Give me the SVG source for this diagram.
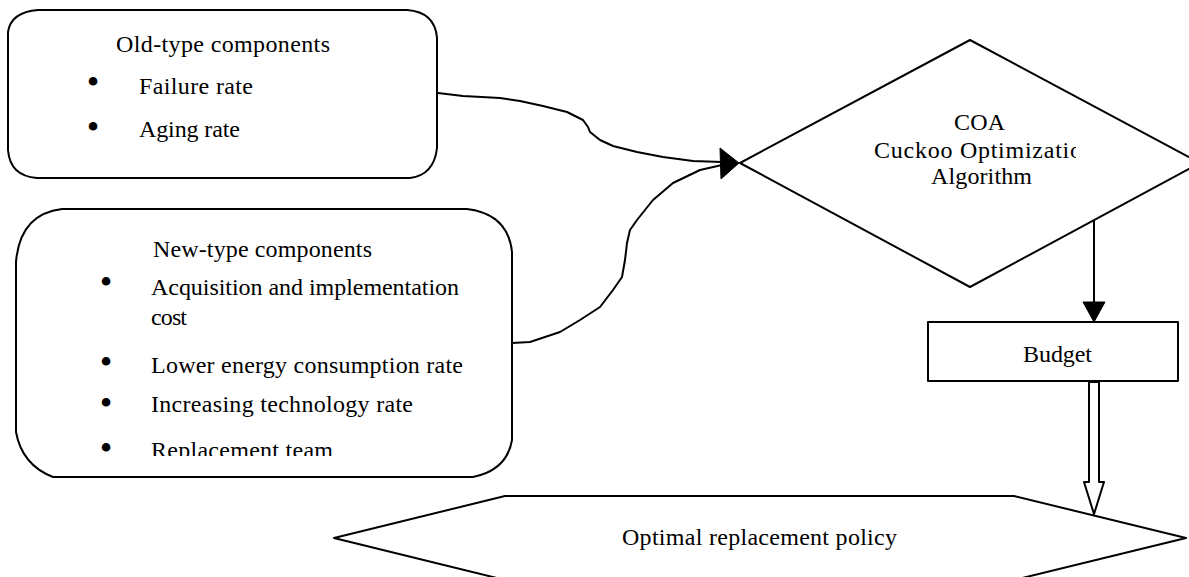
<svg xmlns="http://www.w3.org/2000/svg" width="1189" height="577" viewBox="0 0 1189 577">
<defs>
<style>
.shape{fill:#fff;stroke:#000;stroke-width:2;stroke-linejoin:round}
.line{fill:none;stroke:#000;stroke-width:2;stroke-linejoin:round;stroke-linecap:round}
.head{fill:#000;stroke:#000;stroke-width:1}
.t{font-family:"Liberation Serif","Times New Roman",serif;font-size:24px;fill:#000}
.b{font-family:"Liberation Serif","Times New Roman",serif;font-size:36px;fill:#000;text-anchor:middle}
</style>
<clipPath id="clipCOA"><rect x="800" y="130" width="276" height="40"/></clipPath>
<clipPath id="clipRep"><rect x="140" y="425" width="260" height="31"/></clipPath>
</defs>
<rect width="1189" height="577" fill="#fff"/>
<g id="old-components">
<path class="shape" d="M38,10 L407,10 Q435,12 437,38 L437,148 Q434,175 410,178 L37,178 Q10,176 8,150 L8,32 Q11,12 38,10 Z"/>
<text class="t" x="116" y="52" textLength="214">Old-type components</text>
<text class="b" x="93" y="94">•</text>
<text class="t" x="139" y="94" textLength="114">Failure rate</text>
<text class="b" x="93" y="139">•</text>
<text class="t" x="139" y="137" textLength="101">Aging rate</text>
</g>
<g id="new-components">
<path class="shape" d="M62,209 L467,209 Q508,214 512,252 L512,440 Q507,470 473,477 L53,477 Q22,465 16,432 L16,262 Q20,214 62,209 Z"/>
<text class="t" x="153" y="257" textLength="219">New-type components</text>
<text class="b" x="106" y="294">•</text>
<text class="t" x="151" y="295" textLength="308">Acquisition and implementation</text>
<text class="t" x="151" y="325" textLength="36">cost</text>
<text class="b" x="106" y="374">•</text>
<text class="t" x="151" y="373" textLength="312">Lower energy consumption rate</text>
<text class="b" x="106" y="415">•</text>
<text class="t" x="151" y="412" textLength="262">Increasing technology rate</text>
<text class="b" x="106" y="460">•</text>
<text class="t" x="151" y="458" textLength="182" clip-path="url(#clipRep)">Replacement team</text>
</g>
<g id="coa">
<polygon class="shape" points="970,40 1200,163 970,287 740,163"/>
<text class="t" x="954" y="130" textLength="51">COA</text>
<text class="t" x="874" y="158" textLength="208" clip-path="url(#clipCOA)">Cuckoo Optimizatio</text>
<text class="t" x="931" y="184" textLength="101">Algorithm</text>
</g>
<g id="budget">
<rect class="shape" x="928" y="322" width="250" height="59"/>
<text class="t" x="1023" y="362" textLength="69">Budget</text>
</g>
<g id="policy">
<polygon class="shape" points="334,538 505,496 1014,496 1186,538 1014,580 505,580"/>
<text class="t" x="622" y="545" textLength="275">Optimal replacement policy</text>
</g>
<g id="connectors">
<polyline class="line" points="438,93 463,96 500,98 520,101 543,106 567,112 583,120 588,127 590,132 600,140 613,146 637,152 663,157 693,161 722,162"/>
<polyline class="line" points="512,343 530,342 560,332 580,320 600,307 613,290 622,277 625,260 627,243 630,230 637,220 653,200 673,183 700,170 722,165"/>
<polygon class="head" points="720,148 739,163 721,179"/>
<line class="line" x1="1094" y1="221" x2="1094" y2="304"/>
<polygon class="head" points="1083,302 1105,302 1094,322"/>
<path class="shape" d="M1089,382 L1089,482 L1084,482 L1094,514 L1104,482 L1099,482 L1099,382 Z"/>
</g>
</svg>
